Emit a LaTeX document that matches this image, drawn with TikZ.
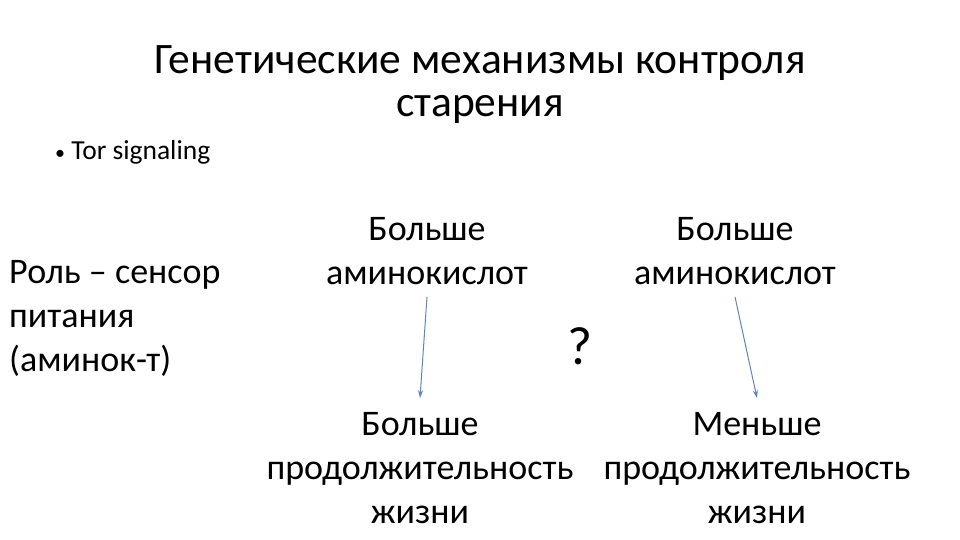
\documentclass[tikz,border=0pt]{standalone}
\usepackage{fontspec}
\setmainfont{Carlito}
\usetikzlibrary{arrows.meta}
\definecolor{arrowblue}{HTML}{5B87BE}
\tikzset{
  txt/.style={inner sep=0pt, align=center, font=\fontsize{36}{44}\selectfont},
  arr/.style={draw=arrowblue, line width=1pt, -{Stealth[length=8pt,width=5pt]}}
}
\begin{document}
\begin{tikzpicture}[x=1pt,y=-1pt]
\useasboundingbox (0,0) rectangle (960,540);
\node[inner sep=0pt, align=center, font=\fontsize{43.5}{43}\selectfont] (title) at (480,85) {Генетические механизмы контроля\\старения};
\node[inner sep=0pt, anchor=base west, font=\fontsize{27.5}{31}\selectfont] (tor) at (55,160) {{\fontsize{20}{24}\selectfont\textbullet}\ Tor signaling};
\node[txt, align=left, anchor=north west] (role) at (9,260) {Роль – сенсор\\питания\\(аминок-т)};
\node[txt] (a1) at (427,251) {Больше\\аминокислот};
\node[txt] (a2) at (735,251) {Больше\\аминокислот};
\node[inner sep=0pt, font=\fontsize{54}{60}\selectfont] (q) at (580,346) {?};
\node[txt] (b1) at (420,468) {Больше\\продолжительность\\жизни};
\node[txt] (b2) at (757,468) {Меньше\\продолжительность\\жизни};
\draw[arr] ([yshift=-12pt]a1.south) -- ([yshift=14pt]b1.north);
\draw[arr] ([yshift=-12pt]a2.south) -- ([yshift=14pt]b2.north);
\end{tikzpicture}
\end{document}
